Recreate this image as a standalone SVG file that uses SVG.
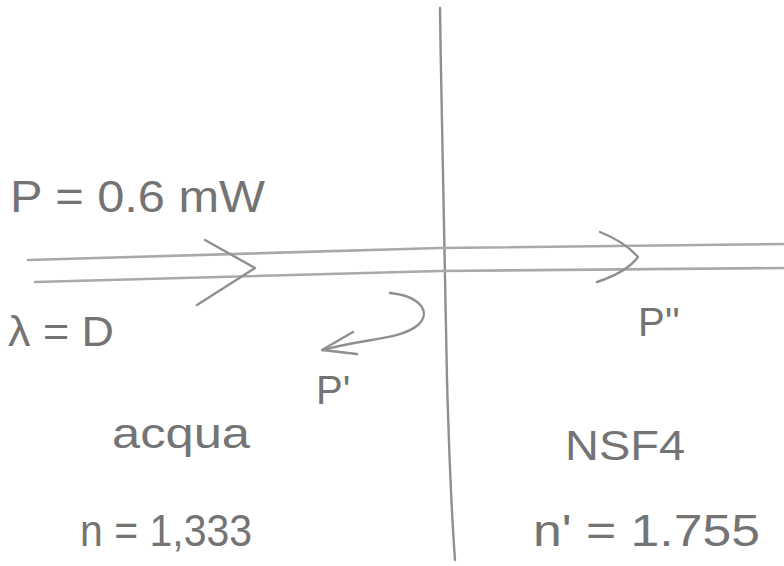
<svg xmlns="http://www.w3.org/2000/svg" width="784" height="566" viewBox="0 0 784 566">
<style>
.pen{fill:none;stroke:#8f8f8f;stroke-width:2.4;stroke-linecap:round;stroke-linejoin:round}
.thin{fill:none;stroke:#a9a9a9;stroke-width:2.6;stroke-linecap:round}
.hw{font-family:"Liberation Sans","DejaVu Sans",sans-serif;fill:#747474;font-weight:normal}
</style>
<rect width="784" height="566" fill="#ffffff"/>
<g id="connectors">
<path class="pen" d="M440,8 C442,150 445,300 447,380 C449,450 452,520 455,560"/>
<path class="thin" d="M28,260 L440,248 L784,244"/>
<path class="thin" d="M35,282 L440,271 L784,268"/>
<path class="pen" d="M205,240 L255,268 L197,305"/>
<path class="pen" d="M600,232 C620,240 632,250 638,257 C630,268 615,276 597,282"/>
<path class="pen" d="M390,293 C420,296 432,312 418,325 C400,340 365,338 323,350"/>
<path class="pen" d="M353,332 L322,350 L357,354"/>
</g>
<g id="label-P">
<text class="hw" x="10" y="212" font-size="44" textLength="255" lengthAdjust="spacingAndGlyphs">P = 0.6 mW</text>
</g>
<g id="label-lambda">
<text class="hw" x="8" y="346" font-size="42" textLength="106" lengthAdjust="spacingAndGlyphs">λ = D</text>
</g>
<g id="label-Pr">
<text class="hw" x="316" y="404" font-size="40">P'</text>
</g>
<g id="label-Pt">
<text class="hw" x="638" y="336" font-size="40">P''</text>
</g>
<g id="medium-water">
<text class="hw" x="112" y="448" font-size="42" textLength="138" lengthAdjust="spacingAndGlyphs">acqua</text>
<text class="hw" x="80" y="546" font-size="44" textLength="172" lengthAdjust="spacingAndGlyphs">n = 1,333</text>
</g>
<g id="medium-glass">
<text class="hw" x="565" y="460" font-size="42" textLength="120" lengthAdjust="spacingAndGlyphs">NSF4</text>
<text class="hw" x="533" y="546" font-size="44" textLength="227" lengthAdjust="spacingAndGlyphs">n' = 1.755</text>
</g>
</svg>
